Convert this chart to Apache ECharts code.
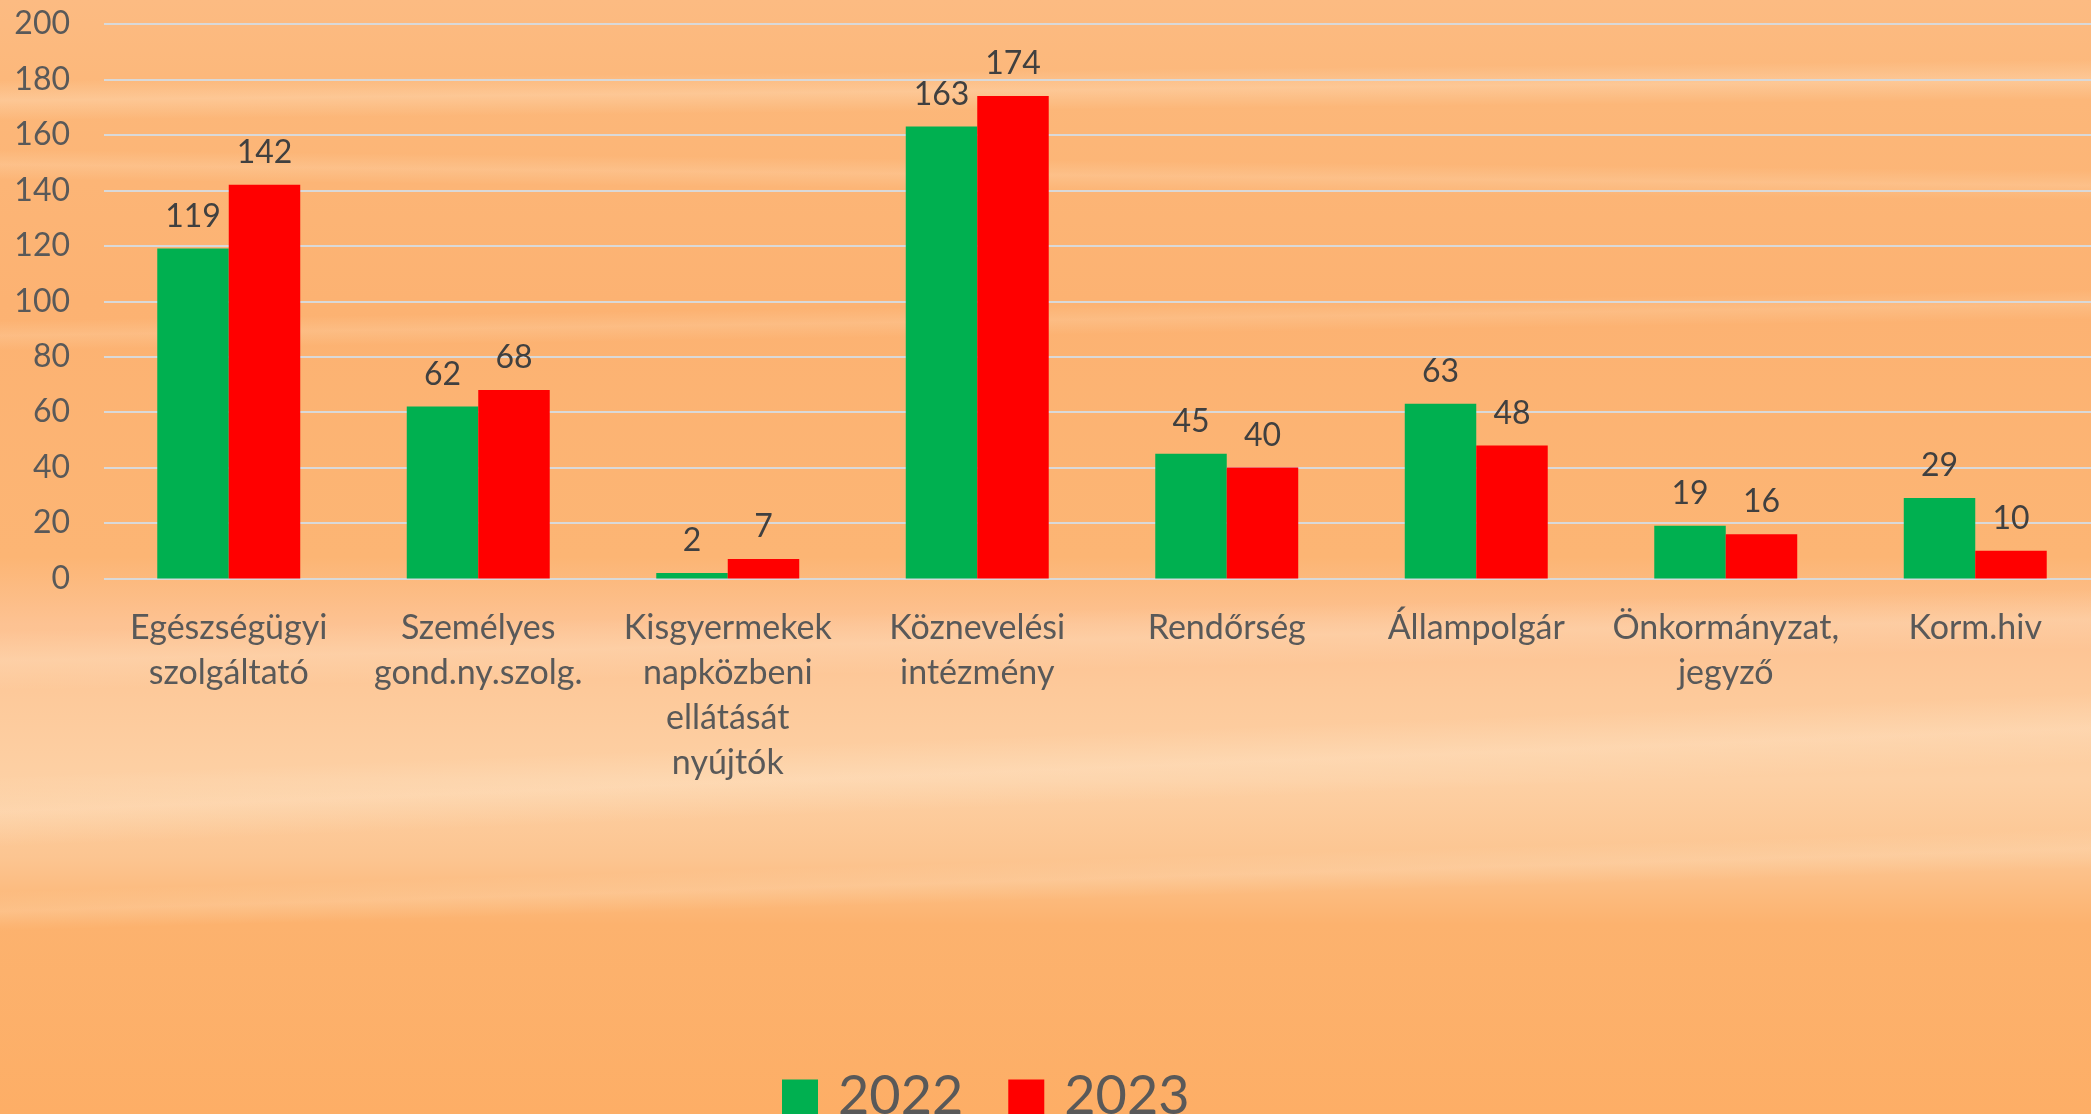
<!DOCTYPE html>
<html>
<head>
<meta charset="utf-8">
<script src="https://cdn.jsdelivr.net/npm/echarts@6/dist/echarts.min.js"></script>
<style>
  html, body { margin: 0; padding: 0; }
  #chart { width: 2091px; height: 1114px; }
</style>
</head>
<body>
<div id="chart"></div>
<script>
const categories = [
  'Egészségügyi\nszolgáltató',
  'Személyes\ngond.ny.szolg.',
  'Kisgyermekek\nnapközbeni\nellátását\nnyújtók',
  'Köznevelési\nintézmény',
  'Rendőrség',
  'Állampolgár',
  'Önkormányzat,\njegyző',
  'Korm.hiv'
];
const seriesNames = ['2022', '2023'];
const values2022 = [119, 62, 2, 163, 45, 63, 19, 29];
const values2023 = [142, 68, 7, 174, 40, 48, 16, 10];

const FONT = 'Lato';
const TEXT = '#595959';

// soft, full-width light bands imitating the cloudy background
function band(y, h, rot, op) {
  return {
    type: 'rect', z: -10, silent: true,
    x: 1045, y: y, originX: 0, originY: 0, rotation: rot,
    shape: { x: -1400, y: -h / 2, width: 2800, height: h },
    style: {
      fill: {
        type: 'linear', x: 0, y: 0, x2: 0, y2: 1,
        colorStops: [
          { offset: 0, color: 'rgba(255,236,212,0)' },
          { offset: 0.5, color: 'rgba(255,236,212,' + op + ')' },
          { offset: 1, color: 'rgba(255,236,212,0)' }
        ]
      }
    }
  };
}

const chart = echarts.init(document.getElementById('chart'));
chart.setOption({
  backgroundColor: {
    type: 'linear', x: 0, y: 0, x2: 0, y2: 1,
    colorStops: [
      { offset: 0.00, color: '#FCBB82' },
      { offset: 0.09, color: '#FCB779' },
      { offset: 0.27, color: '#FCB272' },
      { offset: 0.50, color: '#FCB574' },
      { offset: 0.56, color: '#FDC292' },
      { offset: 0.62, color: '#FDC99A' },
      { offset: 0.70, color: '#FDD0A4' },
      { offset: 0.77, color: '#FCC591' },
      { offset: 0.83, color: '#FCB26E' },
      { offset: 1.00, color: '#FDAE66' }
    ]
  },
  graphic: [
    band(90, 40, 0.01, 0.3),
    band(175, 30, -0.01, 0.2),
    band(320, 30, 0.015, 0.18),
    band(640, 60, 0.02, 0.25),
    band(770, 70, 0.04, 0.3),
    band(880, 40, 0.03, 0.2)
  ],
  textStyle: { fontFamily: FONT },
  animation: false,
  grid: {
    left: 104, top: 24, width: 1996, bottom: 535.5,
    containLabel: false, outerBoundsMode: 'none'
  },
  legend: {
    data: seriesNames,
    left: 777, top: 1065,
    icon: 'rect',
    itemWidth: 36, itemHeight: 35,
    itemGap: 45,
    textStyle: { fontFamily: FONT, fontSize: 54, color: TEXT, padding: [0, 0, 0, 15] }
  },
  xAxis: {
    type: 'category',
    data: categories,
    axisLine: { show: false },
    axisTick: { show: false },
    axisLabel: {
      interval: 0, margin: 27,
      fontFamily: FONT, fontSize: 34, lineHeight: 45, color: TEXT
    }
  },
  yAxis: {
    type: 'value',
    min: 0, max: 200, interval: 20,
    axisLine: { show: false },
    axisTick: { show: false },
    axisLabel: { margin: 34, fontFamily: FONT, fontSize: 32, color: TEXT },
    splitLine: { lineStyle: { color: '#D9D9D9', width: 2 } }
  },
  series: [
    {
      name: seriesNames[0], type: 'bar', data: values2022,
      itemStyle: { color: '#00B050' },
      barGap: '0%', barCategoryGap: '42.7%',
      label: { show: true, position: 'top', distance: 16, fontFamily: FONT, fontSize: 32, color: '#404040' }
    },
    {
      name: seriesNames[1], type: 'bar', data: values2023,
      itemStyle: { color: '#FF0000' },
      barGap: '0%', barCategoryGap: '42.7%',
      label: { show: true, position: 'top', distance: 16, fontFamily: FONT, fontSize: 32, color: '#404040' }
    }
  ]
});
</script>
</body>
</html>
